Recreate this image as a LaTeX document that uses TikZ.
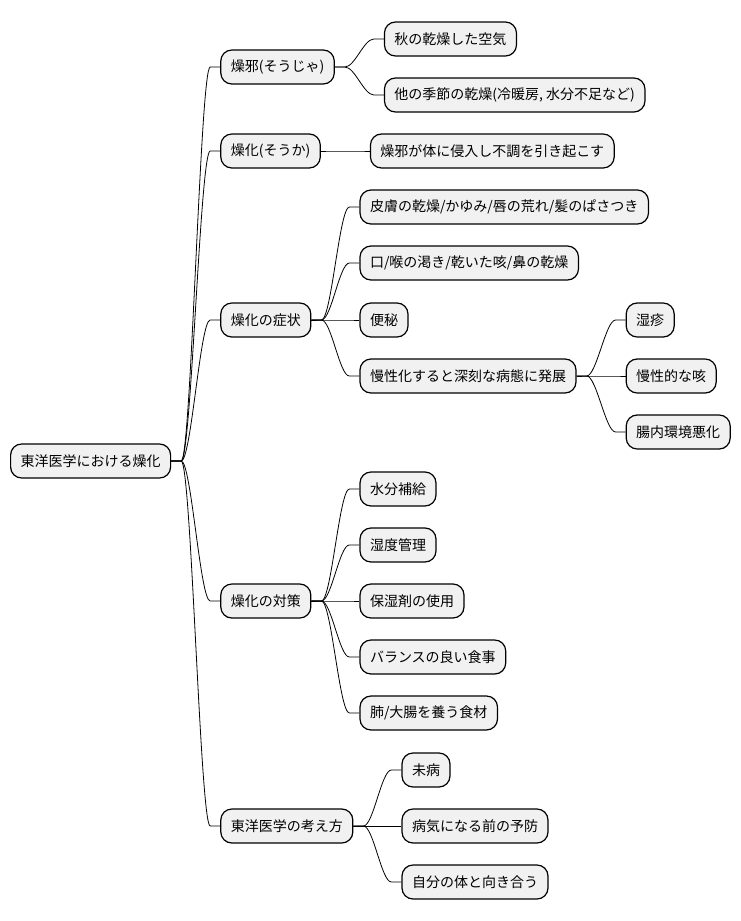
\documentclass[tikz,border=0pt]{standalone}
\usepackage{fontspec}
\setmainfont{Noto Sans CJK JP}
\usepackage{xcolor}
\usepackage{tikz}
\usetikzlibrary{positioning}
\definecolor{boxfill}{HTML}{F1F1F1}

\begin{document}
\begin{tikzpicture}[
    x=1pt, y=-1pt,
    topic/.style={draw, rectangle, rounded corners=11pt, fill=boxfill, line width=1.2pt,
      minimum height=34pt, inner xsep=10pt, inner ysep=0pt, font=\fontsize{14pt}{16pt}\selectfont},
    link/.style={line width=0.8pt, to path={-- ++(10pt,0) .. controls +(10pt,0) and ([xshift=-20pt]\tikztotarget.west) .. ([xshift=-10pt]\tikztotarget.west) -- (\tikztotarget.west)}}
  ]
    \useasboundingbox (0,0) rectangle (740,921);
    \node[topic, anchor=west] (root) at (10,461) {東洋医学における燥化};
    % first level
    \node[topic, right=49pt of root, yshift=394pt] (jaki) {燥邪(そうじゃ)};
    \node[topic, right=49pt of root, yshift=310pt] (soka) {燥化(そうか)};
    \node[topic, right=49pt of root, yshift=141pt] (shojo) {燥化の症状};
    \node[topic, right=49pt of root, yshift=-140pt] (taisaku) {燥化の対策};
    \node[topic, right=49pt of root, yshift=-365pt] (kangae) {東洋医学の考え方};
    % second level
    \node[topic, right=49pt of jaki, yshift=28pt] (aki) {秋の乾燥した空気};
    \node[topic, right=49pt of jaki, yshift=-28pt] (hoka) {他の季節の乾燥(冷暖房, 水分不足など)};
    \node[topic, right=49pt of soka] (shinnyu) {燥邪が体に侵入し不調を引き起こす};
    \node[topic, right=48pt of shojo, yshift=113pt] (hifu) {皮膚の乾燥/かゆみ/唇の荒れ/髪のぱさつき};
    \node[topic, right=48pt of shojo, yshift=57pt] (kuchi) {口/喉の渇き/乾いた咳/鼻の乾燥};
    \node[topic, right=48pt of shojo] (benpi) {便秘};
    \node[topic, right=48pt of shojo, yshift=-56pt] (mansei) {慢性化すると深刻な病態に発展};
    \node[topic, right=49pt of mansei, yshift=56pt] (shisshin) {湿疹};
    \node[topic, right=49pt of mansei] (seki) {慢性的な咳};
    \node[topic, right=49pt of mansei, yshift=-56pt] (chonai) {腸内環境悪化};
    \node[topic, right=48pt of taisaku, yshift=112pt] (suibun) {水分補給};
    \node[topic, right=48pt of taisaku, yshift=56pt] (shitsudo) {湿度管理};
    \node[topic, right=48pt of taisaku] (hoshitsu) {保湿剤の使用};
    \node[topic, right=48pt of taisaku, yshift=-56pt] (shokuji) {バランスの良い食事};
    \node[topic, right=48pt of taisaku, yshift=-112pt] (shokuzai) {肺/大腸を養う食材};
    \node[topic, right=48pt of kangae, yshift=56pt] (mibyo) {未病};
    \node[topic, right=48pt of kangae] (yobo) {病気になる前の予防};
    \node[topic, right=48pt of kangae, yshift=-56pt] (jibun) {自分の体と向き合う};
    % connectors
    \foreach \c in {jaki,soka,shojo,taisaku,kangae}
      \draw[link] (root.east) to (\c);
    \foreach \c in {aki,hoka}
      \draw[link] (jaki.east) to (\c);
    \draw[link] (soka.east) to (shinnyu);
    \foreach \c in {hifu,kuchi,benpi,mansei}
      \draw[link] (shojo.east) to (\c);
    \foreach \c in {shisshin,seki,chonai}
      \draw[link] (mansei.east) to (\c);
    \foreach \c in {suibun,shitsudo,hoshitsu,shokuji,shokuzai}
      \draw[link] (taisaku.east) to (\c);
    \foreach \c in {mibyo,yobo,jibun}
      \draw[link] (kangae.east) to (\c);
  \end{tikzpicture}
\end{document}
